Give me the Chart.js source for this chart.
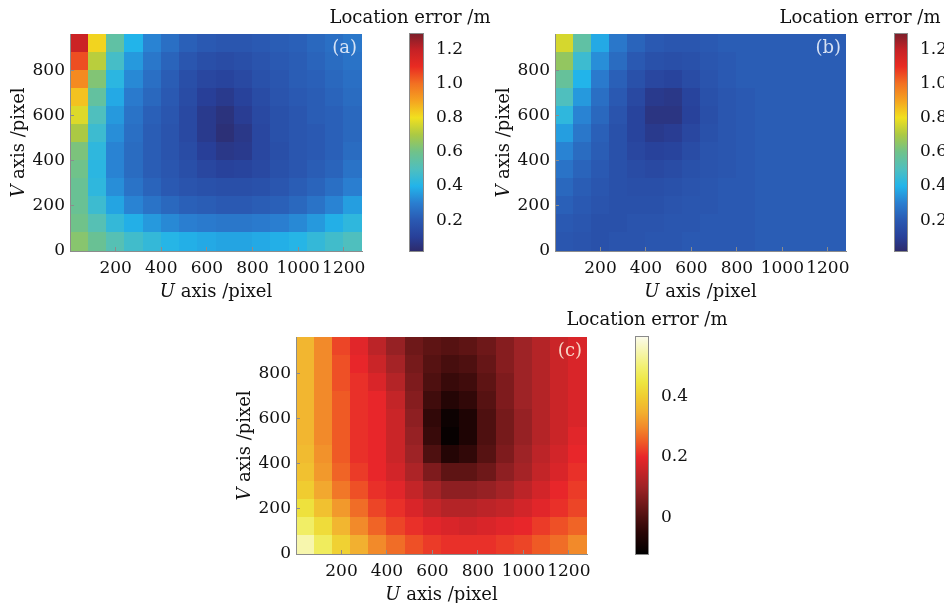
<!DOCTYPE html>
<html>
<head>
<meta charset="utf-8">
<script src="https://cdn.jsdelivr.net/npm/chart.js@4.4.1/dist/chart.umd.min.js"></script>
<style>
  html, body { margin: 0; padding: 0; background: #fff; overflow: hidden; }
  body { position: relative; width: 944px; height: 603px; }
  canvas { position: absolute; }
</style>
</head>
<body>
<canvas id="mapA" width="385" height="305" style="left:0px;top:0px"></canvas>
<canvas id="barA" width="180" height="270" style="left:320px;top:0px"></canvas>
<canvas id="mapB" width="384" height="305" style="left:485px;top:0px"></canvas>
<canvas id="barB" width="174" height="270" style="left:770px;top:0px"></canvas>
<canvas id="mapC" width="384" height="305" style="left:226px;top:303px"></canvas>
<canvas id="barC" width="190" height="270" style="left:560px;top:303px"></canvas>
<script>
// grid cell centres (pixel coordinates of the camera image)
const uCenters = [40, 120, 200, 280, 360, 440, 520, 600, 680, 760, 840, 920, 1000, 1080, 1160, 1240];
const vCenters = [920, 840, 760, 680, 600, 520, 440, 360, 280, 200, 120, 40];

const uTicks = [200, 400, 600, 800, 1000, 1200];
const vTicks = [0, 200, 400, 600, 800];
const barTicksAB = [0.2, 0.4, 0.6, 0.8, 1.0, 1.2];
const barTicksC = [0, 0.2, 0.4];

// location error (m), rows from top (v=920) to bottom (v=40)
const errA = [
  [1.18, 0.82, 0.55, 0.40, 0.31, 0.26, 0.22, 0.20, 0.19, 0.19, 0.20, 0.21, 0.22, 0.24, 0.26, 0.28],
  [1.05, 0.72, 0.48, 0.35, 0.28, 0.23, 0.19, 0.16, 0.15, 0.16, 0.18, 0.20, 0.21, 0.23, 0.25, 0.27],
  [0.95, 0.63, 0.42, 0.32, 0.26, 0.21, 0.16, 0.13, 0.12, 0.14, 0.17, 0.19, 0.21, 0.22, 0.24, 0.26],
  [0.85, 0.56, 0.38, 0.29, 0.24, 0.20, 0.15, 0.10, 0.08, 0.11, 0.15, 0.18, 0.20, 0.21, 0.23, 0.25],
  [0.77, 0.50, 0.35, 0.27, 0.22, 0.19, 0.14, 0.08, 0.05, 0.09, 0.14, 0.17, 0.19, 0.21, 0.22, 0.24],
  [0.70, 0.46, 0.33, 0.26, 0.21, 0.18, 0.14, 0.08, 0.04, 0.07, 0.13, 0.17, 0.19, 0.20, 0.22, 0.24],
  [0.62, 0.43, 0.31, 0.25, 0.21, 0.18, 0.15, 0.10, 0.07, 0.08, 0.13, 0.16, 0.19, 0.20, 0.22, 0.25],
  [0.60, 0.42, 0.31, 0.25, 0.21, 0.19, 0.16, 0.13, 0.11, 0.12, 0.14, 0.17, 0.19, 0.21, 0.23, 0.27],
  [0.58, 0.43, 0.33, 0.27, 0.23, 0.20, 0.18, 0.17, 0.16, 0.16, 0.17, 0.19, 0.21, 0.23, 0.26, 0.30],
  [0.58, 0.46, 0.37, 0.31, 0.27, 0.24, 0.22, 0.21, 0.20, 0.20, 0.21, 0.22, 0.24, 0.27, 0.31, 0.36],
  [0.60, 0.52, 0.44, 0.39, 0.35, 0.32, 0.30, 0.29, 0.28, 0.28, 0.29, 0.30, 0.32, 0.35, 0.39, 0.43],
  [0.64, 0.58, 0.52, 0.47, 0.44, 0.41, 0.39, 0.38, 0.37, 0.37, 0.38, 0.39, 0.41, 0.44, 0.47, 0.50]
];

const errB = [
  [0.76, 0.55, 0.38, 0.28, 0.23, 0.20, 0.19, 0.19, 0.20, 0.21, 0.21, 0.21, 0.21, 0.21, 0.21, 0.21],
  [0.66, 0.46, 0.33, 0.25, 0.20, 0.17, 0.16, 0.17, 0.19, 0.20, 0.21, 0.21, 0.21, 0.21, 0.21, 0.21],
  [0.57, 0.40, 0.29, 0.22, 0.17, 0.13, 0.12, 0.15, 0.18, 0.20, 0.21, 0.21, 0.21, 0.21, 0.21, 0.21],
  [0.50, 0.35, 0.26, 0.20, 0.14, 0.08, 0.07, 0.12, 0.17, 0.19, 0.20, 0.21, 0.21, 0.21, 0.21, 0.21],
  [0.43, 0.31, 0.24, 0.18, 0.12, 0.06, 0.06, 0.11, 0.16, 0.19, 0.20, 0.21, 0.21, 0.21, 0.21, 0.21],
  [0.36, 0.28, 0.22, 0.17, 0.12, 0.08, 0.09, 0.13, 0.17, 0.19, 0.20, 0.21, 0.21, 0.21, 0.21, 0.21],
  [0.31, 0.25, 0.21, 0.17, 0.13, 0.11, 0.12, 0.15, 0.18, 0.19, 0.20, 0.21, 0.21, 0.21, 0.21, 0.21],
  [0.27, 0.23, 0.20, 0.17, 0.15, 0.14, 0.15, 0.17, 0.18, 0.19, 0.20, 0.21, 0.21, 0.21, 0.21, 0.21],
  [0.24, 0.21, 0.19, 0.17, 0.16, 0.16, 0.17, 0.18, 0.19, 0.20, 0.20, 0.21, 0.21, 0.21, 0.21, 0.21],
  [0.22, 0.20, 0.18, 0.17, 0.17, 0.17, 0.18, 0.19, 0.19, 0.20, 0.20, 0.21, 0.21, 0.21, 0.21, 0.21],
  [0.20, 0.19, 0.17, 0.17, 0.18, 0.18, 0.19, 0.19, 0.20, 0.20, 0.20, 0.21, 0.21, 0.21, 0.21, 0.21],
  [0.19, 0.18, 0.17, 0.18, 0.18, 0.19, 0.19, 0.20, 0.20, 0.20, 0.20, 0.21, 0.21, 0.21, 0.21, 0.21]
];

const errC = [
  [0.36, 0.30, 0.23, 0.19, 0.14, 0.09, 0.04, 0.02, 0.01, 0.02, 0.04, 0.07, 0.10, 0.13, 0.16, 0.18],
  [0.36, 0.30, 0.24, 0.20, 0.16, 0.11, 0.05, 0.01, -0.01, 0.00, 0.03, 0.07, 0.10, 0.13, 0.16, 0.18],
  [0.36, 0.30, 0.24, 0.21, 0.18, 0.13, 0.06, 0.00, -0.03, -0.02, 0.02, 0.06, 0.10, 0.13, 0.16, 0.18],
  [0.36, 0.30, 0.25, 0.21, 0.20, 0.15, 0.07, -0.02, -0.06, -0.04, 0.01, 0.06, 0.10, 0.13, 0.16, 0.18],
  [0.36, 0.30, 0.25, 0.21, 0.20, 0.16, 0.08, -0.04, -0.10, -0.07, 0.00, 0.05, 0.09, 0.13, 0.16, 0.18],
  [0.36, 0.30, 0.25, 0.21, 0.20, 0.16, 0.09, -0.03, -0.11, -0.07, 0.00, 0.05, 0.09, 0.13, 0.16, 0.19],
  [0.37, 0.31, 0.25, 0.21, 0.20, 0.16, 0.10, 0.00, -0.06, -0.04, 0.01, 0.06, 0.10, 0.14, 0.17, 0.20],
  [0.38, 0.32, 0.26, 0.22, 0.20, 0.17, 0.12, 0.06, 0.02, 0.02, 0.04, 0.08, 0.11, 0.15, 0.18, 0.21],
  [0.40, 0.34, 0.28, 0.24, 0.21, 0.19, 0.15, 0.11, 0.08, 0.08, 0.09, 0.11, 0.14, 0.17, 0.20, 0.22],
  [0.44, 0.38, 0.32, 0.27, 0.23, 0.21, 0.18, 0.15, 0.13, 0.13, 0.14, 0.15, 0.17, 0.19, 0.21, 0.23],
  [0.49, 0.43, 0.36, 0.30, 0.26, 0.23, 0.21, 0.19, 0.18, 0.17, 0.18, 0.19, 0.20, 0.22, 0.24, 0.26],
  [0.55, 0.48, 0.41, 0.35, 0.30, 0.27, 0.24, 0.22, 0.21, 0.21, 0.21, 0.22, 0.23, 0.25, 0.27, 0.30]
];

// colour maps: [value, colour]
const jetStops = [
  [0.02, '#2d2b6c'], [0.10, '#283f98'], [0.20, '#2a59b2'], [0.30, '#2a7ed0'],
  [0.40, '#22b4ea'], [0.50, '#4fbfbe'], [0.60, '#70c28a'], [0.70, '#abc944'],
  [0.80, '#f1e01f'], [0.90, '#f5a320'], [1.00, '#f27022'], [1.10, '#e92b22'],
  [1.20, '#c42126'], [1.29, '#7d1f2a']
];
const hotStops = [
  [-0.123, '#000000'], [-0.05, '#2a0606'], [0.00, '#4e1010'], [0.10, '#9e2326'],
  [0.20, '#e8262a'], [0.25, '#ef5a25'], [0.30, '#f28a2a'], [0.35, '#f2b030'],
  [0.40, '#f0cc30'], [0.45, '#eee640'], [0.50, '#f2f070'], [0.60, '#fbfbea']
];

const CELL = 80;
const FONT = '"DejaVu Serif", serif';
const TEXT = '#111';

function hexRgb(h) {
  return [parseInt(h.slice(1, 3), 16), parseInt(h.slice(3, 5), 16), parseInt(h.slice(5, 7), 16)];
}

function colorFor(stops, val) {
  if (val <= stops[0][0]) return stops[0][1];
  for (let i = 1; i < stops.length; i++) {
    if (val <= stops[i][0]) {
      const t = (val - stops[i - 1][0]) / (stops[i][0] - stops[i - 1][0]);
      const a = hexRgb(stops[i - 1][1]), b = hexRgb(stops[i][1]);
      const c = a.map((x, k) => Math.round(x + (b[k] - x) * t));
      return `rgb(${c[0]},${c[1]},${c[2]})`;
    }
  }
  return stops[stops.length - 1][1];
}

function drawMixed(ctx, italic, rest, cx, cy) {
  ctx.font = `italic 18px ${FONT}`;
  const w1 = ctx.measureText(italic).width;
  ctx.font = `18px ${FONT}`;
  const w2 = ctx.measureText(rest).width;
  const x0 = cx - (w1 + w2) / 2;
  ctx.textAlign = 'left';
  ctx.font = `italic 18px ${FONT}`;
  ctx.fillText(italic, x0, cy);
  ctx.font = `18px ${FONT}`;
  ctx.fillText(rest, x0 + w1, cy);
}

// paints the error grid cell by cell through the chart scales
const heatmapPlugin = {
  id: 'heatmap',
  beforeDraw(chart, args, opts) {
    const { ctx, chartArea: a, scales: { x, y } } = chart;
    ctx.save();
    ctx.beginPath();
    ctx.rect(a.left, a.top, a.right - a.left, a.bottom - a.top);
    ctx.clip();
    opts.grid.forEach((row, i) => {
      const v = vCenters[i];
      row.forEach((val, j) => {
        const u = uCenters[j];
        const x0 = x.getPixelForValue(u - CELL / 2);
        const x1 = x.getPixelForValue(u + CELL / 2);
        const y0 = y.getPixelForValue(v + CELL / 2);
        const y1 = y.getPixelForValue(v - CELL / 2);
        ctx.fillStyle = colorFor(opts.stops, val);
        ctx.fillRect(Math.floor(x0), Math.floor(y0), Math.ceil(x1 - x0) + 1, Math.ceil(y1 - y0) + 1);
      });
    });
    ctx.restore();
  },
  afterDraw(chart, args, opts) {
    const { ctx, chartArea: a } = chart;
    ctx.save();
    ctx.fillStyle = TEXT;
    ctx.textBaseline = 'middle';
    drawMixed(ctx, 'U', ' axis /pixel', (a.left + a.right) / 2, a.bottom + 41);
    ctx.translate(a.left - 51, (a.top + a.bottom) / 2);
    ctx.rotate(-Math.PI / 2);
    drawMixed(ctx, 'V', ' axis /pixel', 0, 0);
    ctx.restore();

    ctx.save();
    ctx.font = `18px ${FONT}`;
    ctx.fillStyle = opts.tagColor;
    ctx.textAlign = 'right';
    ctx.textBaseline = 'middle';
    ctx.fillText(opts.tag, a.right - 5, a.top + 14);
    ctx.restore();
  }
};

// colour bar strip and its caption
const colorbarPlugin = {
  id: 'colorbar',
  beforeDraw(chart, args, opts) {
    const { ctx, chartArea: a, scales: { y } } = chart;
    const top = y.getPixelForValue(y.max), bottom = y.getPixelForValue(y.min);
    const grad = ctx.createLinearGradient(0, bottom, 0, top);
    opts.stops.forEach(([v, c]) => {
      const t = (v - y.min) / (y.max - y.min);
      grad.addColorStop(Math.min(1, Math.max(0, t)), c);
    });
    ctx.save();
    ctx.fillStyle = grad;
    ctx.fillRect(a.left, top, a.right - a.left, bottom - top);
    ctx.strokeStyle = '#8a8a8a';
    ctx.lineWidth = 1;
    ctx.strokeRect(a.left - 0.5, top - 0.5, a.right - a.left + 1, bottom - top + 1);
    ctx.font = `18px ${FONT}`;
    ctx.fillStyle = TEXT;
    ctx.textAlign = 'center';
    ctx.textBaseline = 'middle';
    ctx.fillText('Location error /m', opts.titleX, opts.titleY);
    ctx.restore();
  }
};

function fixTicks(values) {
  return scale => { scale.ticks = values.map(v => ({ value: v })); };
}

function makeMap(id, grid, stops, tag, tagColor) {
  return new Chart(document.getElementById(id), {
    type: 'scatter',
    data: { datasets: [] },
    plugins: [heatmapPlugin],
    options: {
      responsive: false,
      animation: false,
      layout: { padding: { top: 34, right: 23, left: 0, bottom: 0 } },
      plugins: {
        legend: { display: false },
        tooltip: { enabled: false },
        heatmap: { grid: grid, stops: stops, tag: tag, tagColor: tagColor }
      },
      scales: {
        x: {
          type: 'linear', min: 0, max: 1280,
          afterBuildTicks: fixTicks(uTicks),
          afterFit: s => { s.height = 54; },
          border: { display: true, color: '#8c8c8c', width: 1 },
          grid: { drawOnChartArea: false, drawTicks: true, tickLength: -4, color: '#8c8c8c' },
          ticks: {
            padding: 11, maxRotation: 0, autoSkip: false, color: TEXT, font: { family: FONT, size: 17 },
            callback: v => String(v)
          }
        },
        y: {
          type: 'linear', min: 0, max: 960,
          afterBuildTicks: fixTicks(vTicks),
          afterFit: s => { s.width = 70; },
          border: { display: true, color: '#8c8c8c', width: 1 },
          grid: { drawOnChartArea: false, drawTicks: true, tickLength: -4, color: '#8c8c8c' },
          ticks: {
            padding: 9, autoSkip: false, color: TEXT, font: { family: FONT, size: 17 },
            callback: v => String(v)
          }
        }
      }
    }
  });
}

function makeBar(id, stops, yMin, yMax, ticks, padLeft, axisWidth, titleX, titleY) {
  return new Chart(document.getElementById(id), {
    type: 'scatter',
    data: { datasets: [] },
    plugins: [colorbarPlugin],
    options: {
      responsive: false,
      animation: false,
      layout: { padding: { top: 34, right: 0, left: padLeft, bottom: 19 } },
      plugins: {
        legend: { display: false },
        tooltip: { enabled: false },
        colorbar: { stops: stops, titleX: titleX, titleY: titleY }
      },
      scales: {
        x: { type: 'linear', min: 0, max: 1, display: false },
        y: {
          type: 'linear', position: 'right', min: yMin, max: yMax,
          afterBuildTicks: fixTicks(ticks),
          afterFit: s => { s.width = axisWidth; },
          border: { display: false },
          grid: { display: false },
          ticks: {
            padding: 5, autoSkip: false, color: TEXT, font: { family: FONT, size: 17 },
            callback: v => (v === 0 ? '0' : v.toFixed(1))
          }
        }
      }
    }
  });
}

makeMap('mapA', errA, jetStops, '(a)', 'rgba(232,238,250,0.9)');
makeMap('mapB', errB, jetStops, '(b)', 'rgba(232,238,250,0.9)');
makeMap('mapC', errC, hotStops, '(c)', 'rgba(250,222,205,0.95)');

makeBar('barA', jetStops, 0.02, 1.29, barTicksAB, 90, 77, 90, 18);
makeBar('barB', jetStops, 0.02, 1.29, barTicksAB, 125, 37, 90, 18);
makeBar('barC', hotStops, -0.123, 0.6, barTicksC, 76, 102, 87, 17);
</script>
</body>
</html>
